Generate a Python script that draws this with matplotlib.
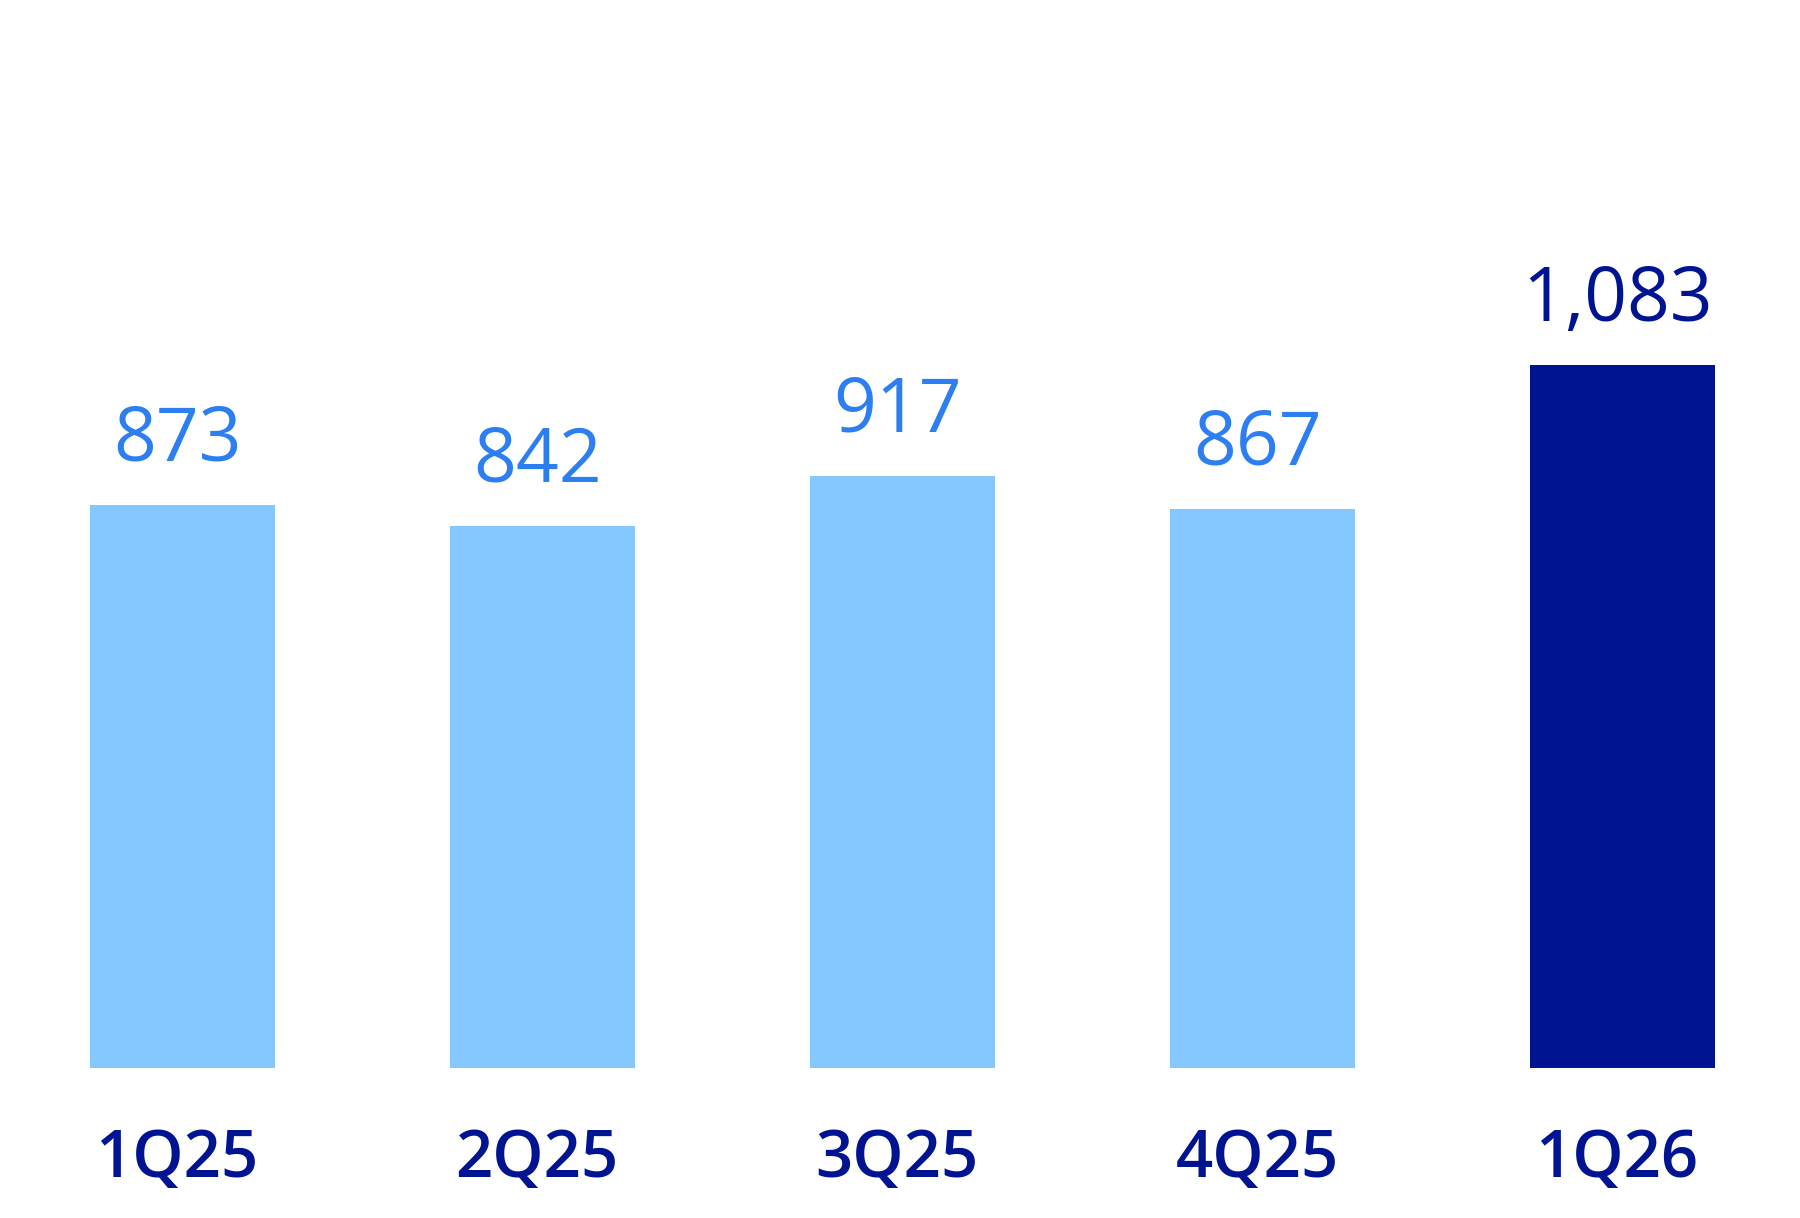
import matplotlib
matplotlib.use("Agg")
import matplotlib.pyplot as plt

categories = ["1Q25", "2Q25", "3Q25", "4Q25", "1Q26"]
values = [873, 842, 917, 867, 1083]
value_labels = ["873", "842", "917", "867", "1,083"]

light_blue = "#85C8FF"
navy = "#001391"
text_blue = "#2D7EF0"
bar_colors = [light_blue, light_blue, light_blue, light_blue, navy]
label_colors = [text_blue, text_blue, text_blue, text_blue, navy]

plt.rcParams["font.family"] = ["Open Sans", "DejaVu Sans"]

fig = plt.figure(figsize=(18, 12.18), dpi=100)
# plot area starts at the bar baseline; y axis does not start at zero
ax = fig.add_axes([0, 150.4 / 1218, 1, 1067.6 / 1218])

x = list(range(len(categories)))
ax.bar(x, values, width=0.514, color=bar_colors)

# value labels above bars
for i, v in enumerate(values):
    ax.annotate(value_labels[i], xy=(i, v), xytext=(-3.5, 32), textcoords="offset points",
                ha="center", va="baseline", fontsize=54, color=label_colors[i])

# category labels under the baseline
for i, c in enumerate(categories):
    ax.annotate(c, xy=(i, 0), xycoords=("data", "axes fraction"),
                xytext=(-4, -79), textcoords="offset points",
                ha="center", va="baseline", fontsize=47, fontweight="semibold",
                color=navy, annotation_clip=False)

ax.set_xlim(-0.507, 4.493)
ax.set_ylim(30.1, 1630.7)
ax.axis("off")

fig.savefig("out.png", dpi=100, facecolor="white")
